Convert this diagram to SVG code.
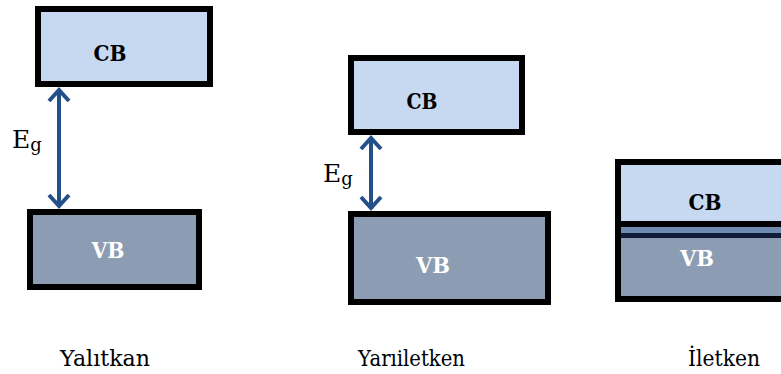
<svg xmlns="http://www.w3.org/2000/svg" width="781" height="374" viewBox="0 0 781 374">
  <defs>
    <style>
      .band { stroke: #000; stroke-width: 6; }
      .cb { fill: #c6d9f0; }
      .vb { fill: #8c9cb2; }
      .lbl { font-family: "DejaVu Serif", "Liberation Serif", serif; font-weight: bold; font-size: 22px; text-anchor: middle; }
      .lbl-cb { fill: #000; }
      .lbl-vb { fill: #fff; }
      .eg { font-family: "DejaVu Serif", "Liberation Serif", serif; font-size: 25px; fill: #000; }
      .eg-sub { font-size: 18px; }
      .cap { font-family: "DejaVu Serif", "Liberation Serif", serif; font-size: 23px; fill: #000; }
      .gap { stroke: #245089; stroke-width: 4; fill: none; }
      .head { stroke: #245089; stroke-width: 4; fill: none; stroke-linecap: butt; stroke-linejoin: miter; }
    </style>
  </defs>

  <!-- Insulator -->
  <g id="insulator-cb">
    <rect class="band cb" x="38" y="9" width="172" height="75"/>
    <text class="lbl lbl-cb" x="110" y="61" textLength="33" lengthAdjust="spacingAndGlyphs">CB</text>
  </g>
  <g id="insulator-vb">
    <rect class="band vb" x="30" y="212" width="169" height="75"/>
    <text class="lbl lbl-vb" x="108" y="258" textLength="33" lengthAdjust="spacingAndGlyphs">VB</text>
  </g>
  <g id="insulator-eg">
    <text class="eg" x="12" y="148">E<tspan class="eg-sub" dy="3">g</tspan></text>
  </g>
  <text class="cap" x="60" y="366" textLength="90" lengthAdjust="spacingAndGlyphs">Yalıtkan</text>

  <!-- Semiconductor -->
  <g id="semi-cb">
    <rect class="band cb" x="351" y="58" width="171" height="74"/>
    <text class="lbl lbl-cb" x="422" y="109" textLength="31" lengthAdjust="spacingAndGlyphs">CB</text>
  </g>
  <g id="semi-vb">
    <rect class="band vb" x="351" y="214" width="197" height="88"/>
    <text class="lbl lbl-vb" x="433" y="273" textLength="34" lengthAdjust="spacingAndGlyphs">VB</text>
  </g>
  <g id="semi-eg">
    <text class="eg" x="323" y="182">E<tspan class="eg-sub" dy="3">g</tspan></text>
  </g>
  <text class="cap" x="358" y="366" textLength="107" lengthAdjust="spacingAndGlyphs">Yarıiletken</text>

  <!-- Conductor: overlapping bands -->
  <g id="conductor">
    <rect class="cb" x="618" y="162" width="180" height="62"/>
    <rect class="vb" x="618" y="238" width="180" height="61"/>
    <rect x="618" y="221" width="180" height="6" fill="#000"/>
    <rect x="618" y="227" width="180" height="6" fill="#6f8bb0"/>
    <rect x="618" y="233" width="180" height="5" fill="#0f1d36"/>
    <rect class="band" fill="none" x="618" y="162" width="180" height="137"/>
    <text class="lbl lbl-cb" x="705" y="210" textLength="33" lengthAdjust="spacingAndGlyphs">CB</text>
    <text class="lbl lbl-vb" x="697" y="266" textLength="34" lengthAdjust="spacingAndGlyphs">VB</text>
  </g>
  <text class="cap" x="688" y="366" textLength="72" lengthAdjust="spacingAndGlyphs">İletken</text>

  <!-- Band-gap arrows -->
  <g id="connectors">
    <line class="gap" x1="59" y1="89" x2="59" y2="207"/>
    <polyline class="head" points="49,101 59,90 69,101"/>
    <polyline class="head" points="49,195 59,206 69,195"/>

    <line class="gap" x1="371" y1="137" x2="371" y2="209"/>
    <polyline class="head" points="361,149 371,138 381,149"/>
    <polyline class="head" points="361,197 371,208 381,197"/>
  </g>
</svg>
